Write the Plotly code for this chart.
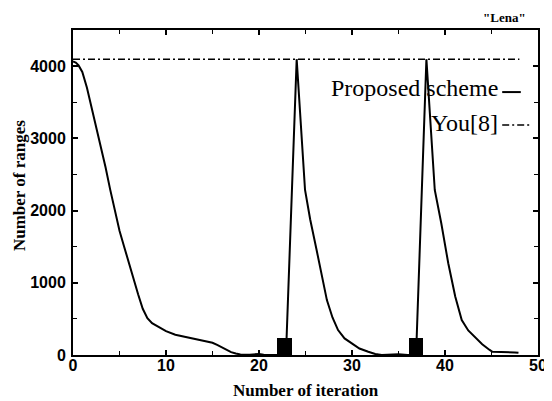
import plotly.graph_objects as go

# Proposed scheme: number of ranges per iteration
proposed_x = [0, 0.3, 0.6, 1, 1.5, 2, 2.5, 3, 3.5, 4, 4.5, 5, 5.5, 6, 6.5, 7, 7.5, 8, 8.5, 9, 9.5,
              10, 11, 12, 13, 14, 15, 15.5, 16, 16.5, 17, 17.5, 18, 19, 20, 20.5, 21, 22.9,
              24.05, 24.95, 25.5, 26.2, 26.75, 27.3, 27.9, 28.5, 29.2, 29.95, 30.8, 31.75, 32.5,
              33.2, 34, 35, 36, 36.89,
              38.0, 38.9, 39.6, 40.35, 41.1, 41.8, 42.5, 43.2, 44.0, 44.8, 45.1, 47.5, 47.9]
proposed_y = [4065, 4050, 4010, 3920, 3700, 3430, 3150, 2880, 2600, 2290, 1990, 1720, 1500, 1270,
              1050, 840, 640, 510, 440, 400, 370, 330, 280, 250, 220, 195, 170, 140, 105, 70, 40,
              20, 8, 5, 15, 5, 0, 0,
              4096, 2285, 1880, 1450, 1085, 760, 520, 345, 230, 160, 90, 45, 15,
              0, 5, 10, 0, 0,
              4096, 2285, 1825, 1270, 810, 485, 340, 255, 150, 70, 45, 35, 30]

# You[8]: constant number of ranges
you_x = [0, 48]
you_y = [4096, 4096]

# filled blocks at the restart iterations
block_x = [22.7, 36.88]
block_w = [1.6, 1.45]
block_h = [240, 240]

x_ticks = [0, 10, 20, 30, 40, 50]
y_ticks = [0, 1000, 2000, 3000, 4000]

DASHDOT = "7px,3px,2px,3px"

fig = go.Figure()
fig.add_trace(go.Bar(x=block_x, y=block_h, width=block_w, marker=dict(color="black", line=dict(width=0)),
                     showlegend=False, hoverinfo="skip"))
fig.add_trace(go.Scatter(x=you_x, y=you_y, mode="lines", name="You[8]",
                         line=dict(color="black", width=1.5, dash=DASHDOT), showlegend=False))
fig.add_trace(go.Scatter(x=proposed_x, y=proposed_y, mode="lines", name="Proposed scheme",
                         line=dict(color="black", width=2), showlegend=False))

axis_common = dict(
    showgrid=False, zeroline=False, showline=True, linecolor="black", linewidth=2,
    mirror="allticks", ticks="inside", ticklen=5, tickwidth=1.5, tickcolor="black",
    automargin=False,
    tickfont=dict(family="Liberation Sans", size=16, color="black", weight="bold"),
)

fig.update_xaxes(range=[0, 50], tickvals=x_ticks, ticktext=[str(v) for v in x_ticks],
                 minor=dict(dtick=5, ticks="inside", ticklen=4, tickcolor="black", tickwidth=1.2),
                 ticklabelstandoff=-5,
                 **axis_common)
fig.update_yaxes(range=[0, 4500], tickvals=y_ticks, ticktext=[str(v) for v in y_ticks],
                 minor=dict(dtick=500, ticks="inside", ticklen=4, tickcolor="black", tickwidth=1.2),
                 ticklabelstandoff=2,
                 **axis_common)

title_font = dict(family="Liberation Serif", size=17, color="black", weight="bold")
fig.add_annotation(text="Number of iteration", xref="paper", yref="paper", x=0.5, y=-0.108,
                   xanchor="center", yanchor="middle", showarrow=False, font=title_font)
fig.add_annotation(text="Number of ranges", xref="paper", yref="paper", x=-0.116, y=0.52,
                   xanchor="center", yanchor="middle", textangle=-90, showarrow=False,
                   font=title_font)

legend_font = dict(family="Liberation Serif", size=24, color="black")
fig.add_annotation(text="Proposed scheme", xref="paper", yref="paper", x=0.918, y=0.822,
                   xanchor="right", yanchor="middle", showarrow=False, font=legend_font)
fig.add_annotation(text="You[8]", xref="paper", yref="paper", x=0.918, y=0.714,
                   xanchor="right", yanchor="middle", showarrow=False, font=legend_font)
fig.add_shape(type="line", xref="paper", yref="paper", x0=0.923, x1=0.963, y0=0.809, y1=0.809,
              line=dict(color="black", width=2))
fig.add_shape(type="line", xref="paper", yref="paper", x0=0.923, x1=0.983, y0=0.708, y1=0.708,
              line=dict(color="black", width=1.5, dash=DASHDOT))
fig.add_annotation(text="\"Lena\"", xref="paper", yref="paper", x=0.978, y=1.037,
                   xanchor="right", yanchor="middle", showarrow=False,
                   font=dict(family="Liberation Serif", size=13, color="black", weight="bold"))

# the page body adds an 8px offset, so margins are shifted to keep the plot area in place
fig.update_layout(width=552, height=401, margin=dict(l=65, r=22, t=22, b=54),
                  plot_bgcolor="white", paper_bgcolor="white", bargap=0, showlegend=False)

fig.write_html("out.html")
